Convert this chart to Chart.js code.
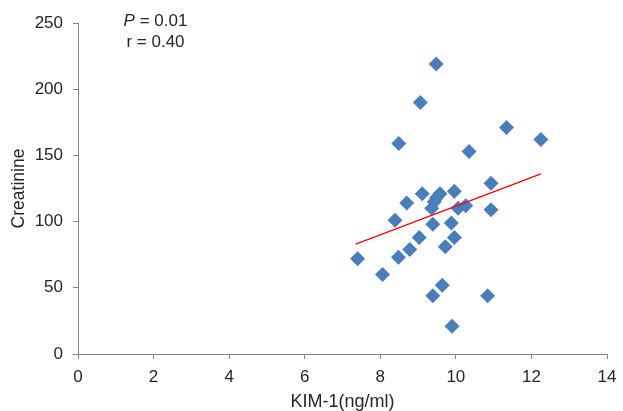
<!DOCTYPE html>
<html>
<head>
<meta charset="utf-8">
<script src="https://cdn.jsdelivr.net/npm/chart.js@4/dist/chart.umd.min.js"></script>
<style>
  html, body { margin: 0; padding: 0; background: #fff; }
</style>
</head>
<body>
<canvas id="graph" width="623" height="411"></canvas>
<script>
// KIM-1 (ng/ml) vs creatinine
let kim1 = [9.48, 9.06, 8.49, 11.34, 12.25, 10.35, 10.93, 9.96, 9.11, 9.58, 9.49, 9.43, 8.70, 9.36, 10.06, 10.26, 10.93, 8.39, 9.39, 9.88, 9.03, 9.96, 9.72, 8.78, 8.48, 7.40, 8.06, 9.64, 9.39, 10.84, 9.90]
let creatinine = [219, 190, 159, 171, 162, 153, 129, 123, 121, 121, 118, 115, 114, 110, 110, 112, 109, 101, 98, 99, 88, 88, 81, 79, 73, 72, 60, 52, 44, 44, 21]

// trend line end points
let trendX = [7.35, 12.25]
let trendY = [83, 136]

let xTicks = [0, 2, 4, 6, 8, 10, 12, 14]
let yTicks = [0, 50, 100, 150, 200, 250]

let points = kim1.map((x, i) => ({ x: x, y: creatinine[i] }))
let trend = trendX.map((x, i) => ({ x: x, y: trendY[i] }))

let axisGray = '#868686'
let textColor = '#262626'
let fontFamily = '"Liberation Sans", Arial, sans-serif'

let statsText = {
    id: 'statsText',
    afterDraw(chart) {
        let ctx = chart.ctx
        ctx.save()
        ctx.fillStyle = textColor
        ctx.textBaseline = 'middle'
        ctx.font = 'italic 17px ' + fontFamily
        let pw = ctx.measureText('P').width
        ctx.font = '17px ' + fontFamily
        let rw = ctx.measureText(' = 0.01').width
        let cx = 155.5
        let left = cx - (pw + rw) / 2
        ctx.textAlign = 'left'
        ctx.font = 'italic 17px ' + fontFamily
        ctx.fillText('P', left, 21)
        ctx.font = '17px ' + fontFamily
        ctx.fillText(' = 0.01', left + pw, 21)
        ctx.textAlign = 'center'
        ctx.fillText('r = 0.40', cx, 42.5)
        ctx.restore()
    }
}

let graph = document.getElementById('graph').getContext('2d')

new Chart(graph, {
    type: 'scatter',
    data: {
        datasets: [
            {
                label: 'Creatinine',
                data: points,
                pointStyle: 'rectRot',
                pointRadius: 7.5,
                pointHoverRadius: 7.5,
                backgroundColor: '#4A7EBB',
                borderColor: '#4A7EBB',
                borderWidth: 0,
                order: 2
            },
            {
                label: 'Trend',
                type: 'line',
                data: trend,
                borderColor: '#FF0000',
                borderWidth: 1.2,
                pointRadius: 0,
                fill: false,
                order: 1
            }
        ]
    },
    options: {
        responsive: false,
        animation: false,
        devicePixelRatio: 1,
        layout: { padding: { top: 23, right: 0, left: 4, bottom: 0 } },
        plugins: {
            legend: { display: false },
            tooltip: { enabled: false }
        },
        scales: {
            x: {
                type: 'linear',
                min: 0,
                max: 14,
                afterBuildTicks: (axis) => { axis.ticks = xTicks.map(v => ({ value: v })) },
                grid: { drawOnChartArea: false, drawTicks: true, tickLength: 5, color: axisGray },
                border: { color: axisGray, width: 1 },
                ticks: { color: textColor, font: { family: fontFamily, size: 17 }, padding: 8, maxRotation: 0 },
                title: { display: true, text: 'KIM-1(ng/ml)', color: textColor, font: { family: fontFamily, size: 18, lineHeight: 1 }, padding: { top: 4, bottom: 0 } },
                afterFit: (axis) => {
                    axis.height = 57
                    axis.paddingRight = 16
                    axis.paddingLeft = 0
                }
            },
            y: {
                type: 'linear',
                min: 0,
                max: 250,
                afterBuildTicks: (axis) => { axis.ticks = yTicks.map(v => ({ value: v })) },
                grid: { drawOnChartArea: false, drawTicks: true, tickLength: 5, color: axisGray },
                border: { color: axisGray, width: 1 },
                ticks: { color: textColor, font: { family: fontFamily, size: 17 }, padding: 10 },
                title: { display: true, text: 'Creatinine', color: textColor, font: { family: fontFamily, size: 17.5 }, padding: { top: 5, bottom: 4 } },
                afterFit: (axis) => { axis.width = 74 }
            }
        }
    },
    plugins: [statsText]
})
</script>
</body>
</html>
